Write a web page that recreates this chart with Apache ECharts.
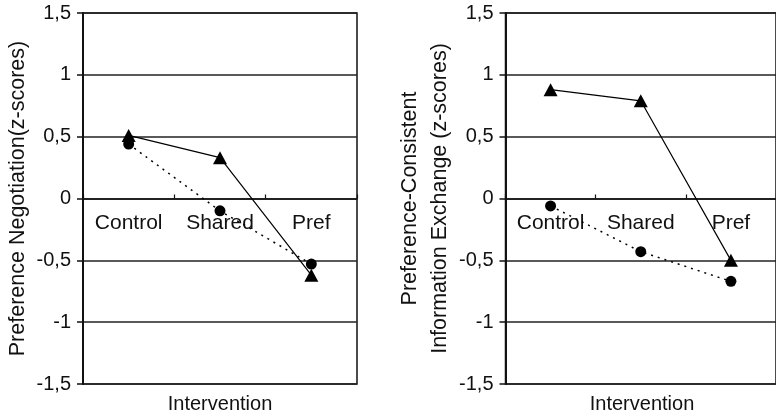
<!DOCTYPE html>
<html>
<head>
<meta charset="utf-8">
<script src="https://cdn.jsdelivr.net/npm/echarts@6/dist/echarts.min.js"></script>
<style>
html,body{margin:0;padding:0;background:#fff;}
#chart{width:776px;height:417px;}
</style>
</head>
<body>
<div id="chart"></div>
<script>
var categories = ['Control', 'Shared', 'Pref'];
var yTicks = [-1.5, -1, -0.5, 0, 0.5, 1, 1.5];
var xTitle = 'Intervention';
// Left panel: Preference Negotiation
var negotiationTriangle = [0.51, 0.33, -0.62];
var negotiationCircle = [0.44, -0.10, -0.53];
// Right panel: Preference-Consistent Information Exchange
var exchangeTriangle = [0.88, 0.79, -0.50];
var exchangeCircle = [-0.06, -0.43, -0.67];

var FONT = '"Liberation Sans", Arial, sans-serif';
var INK = '#111';
var GRID_TOP = 13, GRID_H = 371;

function yAxisFor(gridIndex, name, nameGap, lineHeight) {
  return {
    type: 'value', gridIndex: gridIndex,
    min: yTicks[0], max: yTicks[yTicks.length - 1], interval: 0.5,
    name: name, nameLocation: 'middle', nameGap: nameGap,
    nameTextStyle: { fontFamily: FONT, fontSize: 21.5, color: INK, lineHeight: lineHeight },
    axisLine: { show: true, lineStyle: { color: INK, width: 2 } },
    axisTick: { show: true, length: 6, lineStyle: { color: INK, width: 1.5 } },
    axisLabel: { margin: 12, fontFamily: FONT, fontSize: 20, color: INK,
      formatter: function (v) { return String(v).replace('.', ','); } },
    splitLine: { show: true, lineStyle: { color: '#222', width: 1.5 } }
  };
}
function xAxisZero(gridIndex) {
  return {
    type: 'category', gridIndex: gridIndex, data: categories,
    position: 'bottom', offset: -GRID_H / 2,
    axisLine: { show: true, onZero: false, lineStyle: { color: INK, width: 1.5 } },
    axisTick: { show: true, inside: true, length: 4, lineStyle: { color: INK, width: 1.2 } },
    axisLabel: { margin: 14, fontFamily: FONT, fontSize: 21, color: INK },
    splitLine: { show: false }
  };
}
function triSeries(xi, yi, data) {
  return { type: 'line', xAxisIndex: xi, yAxisIndex: yi, data: data,
    symbol: 'triangle', symbolSize: [14, 13], z: 4,
    itemStyle: { color: '#000' }, lineStyle: { color: '#000', width: 1.2 }, animation: false };
}
function circSeries(xi, yi, data) {
  return { type: 'line', xAxisIndex: xi, yAxisIndex: yi, data: data,
    symbol: 'circle', symbolSize: 11, z: 3,
    itemStyle: { color: '#000' }, lineStyle: { color: '#000', width: 1.5, type: [2, 5] }, animation: false };
}
function xTitleAt(cx) {
  return { text: xTitle, left: cx, top: 394, textAlign: 'center', padding: 0,
    textStyle: { fontFamily: FONT, fontSize: 20, fontWeight: 'normal', color: INK } };
}

var chart = echarts.init(document.getElementById('chart'), null, { renderer: 'canvas' });
chart.setOption({
  backgroundColor: '#fff',
  animation: false,
  title: [xTitleAt(220), xTitleAt(642)],
  grid: [
    { left: 83, top: GRID_TOP, width: 274, height: GRID_H, show: true, borderColor: INK, borderWidth: 1.5, backgroundColor: 'transparent' },
    { left: 505.5, top: GRID_TOP, width: 274, height: GRID_H, show: true, borderColor: INK, borderWidth: 1.5, backgroundColor: 'transparent' }
  ],
  xAxis: [xAxisZero(0), xAxisZero(1)],
  yAxis: [
    yAxisFor(0, 'Preference Negotiation(z-scores)', 53, 24),
    yAxisFor(1, 'Preference-Consistent\nInformation Exchange (z-scores)', 50, 30)
  ],
  series: [
    circSeries(0, 0, negotiationCircle),
    triSeries(0, 0, negotiationTriangle),
    circSeries(1, 1, exchangeCircle),
    triSeries(1, 1, exchangeTriangle)
  ]
});
</script>
</body>
</html>
